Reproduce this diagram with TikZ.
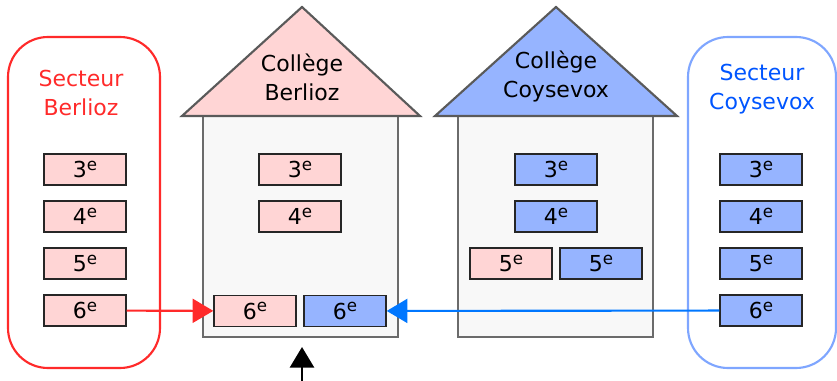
\documentclass[tikz,border=0pt]{standalone}
\usepackage{fontspec}
\setmainfont{DejaVu Sans}
\usetikzlibrary{arrows.meta}

\definecolor{rosa}{HTML}{FFD5D5}
\definecolor{hellblau}{HTML}{96B4FF}
\definecolor{rot}{HTML}{FF2A2A}
\definecolor{blaurand}{HTML}{7FA6FF}
\definecolor{blautext}{HTML}{0055FF}
\definecolor{blaupfeil}{HTML}{0077FF}
\definecolor{mauer}{HTML}{F8F8F8}
\definecolor{dach}{HTML}{5A5A5A}

\newcommand{\klasse}[1]{#1\raisebox{5.5pt}{\fontsize{12.5}{12.5}\selectfont e}}

\begin{document}
\begin{tikzpicture}[x=0.75pt, y=-0.75pt,
	every node/.append style={font=\fontsize{16.5}{21.75}\selectfont},
	kasten/.style={draw=black!85, line width=1.1pt, minimum width=61.5pt, minimum height=23.5pt, inner sep=0pt},
	rosakasten/.style={kasten, fill=rosa},
	blaukasten/.style={kasten, fill=hellblau},
	pfeil/.style={line width=1.6pt, -{Triangle[length=15.5pt, width=18pt]}}]
	\useasboundingbox (0,0) rectangle (837,381);
	
	% Sektoren (abgerundete Rahmen)
	\draw[rot, line width=1.6pt, rounded corners=30pt] (8,37) rectangle (160,368);
	\node[rot, align=center] (tsb) at (81,92.5) {Secteur\\Berlioz};
	\draw[blaurand, line width=1.6pt, rounded corners=30pt] (688,37) rectangle (836,368);
	\node[blautext, align=center] (tsc) at (762,89.5) {Secteur\\Coysevox};
	
	% Klassen der Sektoren
	\foreach \n [count=\i from 0] in {3,4,5,6} {
		\node[rosakasten] (sb\n) at (85,169.5+47*\i) {\klasse{\n}};
		\node[blaukasten] (sc\n) at (761,169.5+47*\i) {\klasse{\n}};
	}
	
	% Haus Berlioz
	\draw[dach!90, line width=1.1pt, fill=mauer] (203,116) rectangle (398,337);
	\draw[dach, line width=1.6pt, fill=rosa] (182,116) -- (302,7) -- (420,116) -- cycle;
	\node[align=center] (hb) at (302,77.5) {Collège\\Berlioz};
	
	% Haus Coysevox
	\draw[dach!90, line width=1.1pt, fill=mauer] (458,116) rectangle (653,337);
	\draw[dach, line width=1.6pt, fill=hellblau] (435,116) -- (556,7) -- (677,116) -- cycle;
	\node[align=center] (hc) at (556,76) {Collège\\Coysevox};
	
	% Klassen im Collège Berlioz
	\node[rosakasten] (cb3) at (300,169.5) {\klasse{3}};
	\node[rosakasten] (cb4) at (300,216.5) {\klasse{4}};
	\node[rosakasten] (cb6r) at (255,311) {\klasse{6}};
	\node[blaukasten] (cb6b) at (345,311) {\klasse{6}};
	
	% Klassen im Collège Coysevox
	\node[blaukasten] (cc3) at (556,169.5) {\klasse{3}};
	\node[blaukasten] (cc4) at (556,216.5) {\klasse{4}};
	\node[rosakasten] (cc5r) at (511,263.5) {\klasse{5}};
	\node[blaukasten] (cc5b) at (601,263.5) {\klasse{5}};
	
	% Pfeile
	\draw[pfeil, rot] (sb6) -- (cb6r);
	\draw[pfeil, blaupfeil] (sc6) -- (cb6b);
	\coordinate (unten) at (302,381);
	\coordinate (tuer) at (302,347);
	\draw[pfeil, black, line width=2.2pt] (unten) -- (tuer);
	
\end{tikzpicture}
\end{document}
